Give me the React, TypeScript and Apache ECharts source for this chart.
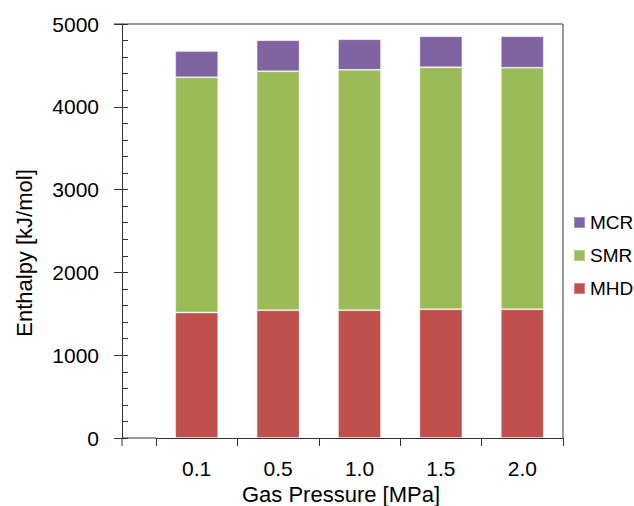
import React, { useEffect, useRef } from "react";
import * as echarts from "echarts";

const categories = ["0.1", "0.5", "1.0", "1.5", "2.0"];
const mhd = [1516, 1544, 1544, 1556, 1556];
const smr = [2841, 2886, 2902, 2922, 2917];
const mcr = [318, 375, 371, 375, 380];
const legendOrder = ["MCR", "SMR", "MHD"];

const FONT = "'Liberation Sans', Arial, sans-serif";
const AXIS_COLOR = "#333";

export default function App() {
  const ref = useRef<HTMLDivElement>(null);
  useEffect(() => {
    if (!ref.current) return;
    const chart = echarts.init(ref.current, null, { renderer: "svg" });
    const left = 156, right = 71, top = 24, bottom = 68;
    const yBottom = 506 - bottom;
    const axisX = 122;
    const plotRight = 634 - right;
    const barStyle = (c: string, b: string) => ({ color: c, borderColor: b, borderWidth: 1 });
    chart.setOption({
      animation: false,
      textStyle: { fontFamily: FONT },
      grid: { left, right, top, bottom },
      legend: {
        orient: "vertical",
        left: 568,
        top: 208,
        data: legendOrder,
        itemWidth: 11,
        itemHeight: 11,
        itemGap: 14,
        icon: "rect",
        textStyle: { fontSize: 19, color: "#000", fontFamily: FONT, padding: [0, 0, 0, 0] },
      },
      xAxis: {
        type: "category",
        data: categories,
        axisLine: { show: true, lineStyle: { color: AXIS_COLOR, width: 1 } },
        axisTick: { show: true, alignWithLabel: false, length: 8, lineStyle: { color: AXIS_COLOR } },
        axisLabel: { fontSize: 21, color: "#000", margin: 20, fontFamily: FONT },
        splitLine: { show: false },
      },
      yAxis: [
        {
          type: "value",
          min: 0,
          max: 5000,
          interval: 1000,
          offset: left - axisX,
          axisLine: { show: true, lineStyle: { color: AXIS_COLOR, width: 1 } },
          axisTick: { show: true, length: 8, lineStyle: { color: AXIS_COLOR } },
          axisLabel: { fontSize: 21, color: "#000", margin: 23, fontFamily: FONT, formatter: (v: number) => String(v) },
          splitLine: { show: false },
        },
        {
          type: "value",
          min: 0,
          max: 5000,
          interval: 1000,
          position: "left",
          offset: left - axisX,
          axisLine: { show: false },
          axisTick: { show: true, inside: true, length: 6, lineStyle: { color: AXIS_COLOR } },
          minorTick: { show: true, splitNumber: 5, length: 6, lineStyle: { color: AXIS_COLOR } },
          axisLabel: { show: false },
          splitLine: { show: false },
        },
      ],
      series: [
        { name: "MHD", type: "bar", stack: "t", data: mhd, barWidth: 43, itemStyle: barStyle("#C0504D", "rgba(255,255,255,0.3)") },
        { name: "SMR", type: "bar", stack: "t", data: smr, barWidth: 43, itemStyle: barStyle("#9BBB59", "rgba(255,255,255,0.3)") },
        { name: "MCR", type: "bar", stack: "t", data: mcr, barWidth: 43, itemStyle: barStyle("#8064A2", "rgba(255,255,255,0.3)") },
      ],
      graphic: [
        { type: "line", shape: { x1: 114, y1: top, x2: plotRight, y2: top }, style: { stroke: AXIS_COLOR, lineWidth: 1 }, silent: true },
        { type: "line", shape: { x1: plotRight, y1: top, x2: plotRight, y2: yBottom }, style: { stroke: AXIS_COLOR, lineWidth: 1 }, silent: true },
        { type: "line", shape: { x1: axisX, y1: yBottom, x2: left, y2: yBottom }, style: { stroke: AXIS_COLOR, lineWidth: 1 }, silent: true },
        { type: "line", shape: { x1: axisX, y1: yBottom, x2: axisX, y2: yBottom + 8 }, style: { stroke: AXIS_COLOR, lineWidth: 1 }, silent: true },
        {
          type: "text",
          x: 341,
          y: 494,
          style: { text: "Gas Pressure [MPa]", fill: "#000", font: `22px ${FONT}`, align: "center", verticalAlign: "middle" },
        },
        {
          type: "text",
          x: 24,
          y: 253,
          rotation: Math.PI / 2,
          style: { text: "Enthalpy [kJ/mol]", fill: "#000", font: `22px ${FONT}`, align: "center", verticalAlign: "middle" },
        },
      ],
    });
    return () => chart.dispose();
  }, []);
  return <div ref={ref} style={{ width: 634, height: 506, position: "absolute", left: 0, top: 0 }} />;
}
